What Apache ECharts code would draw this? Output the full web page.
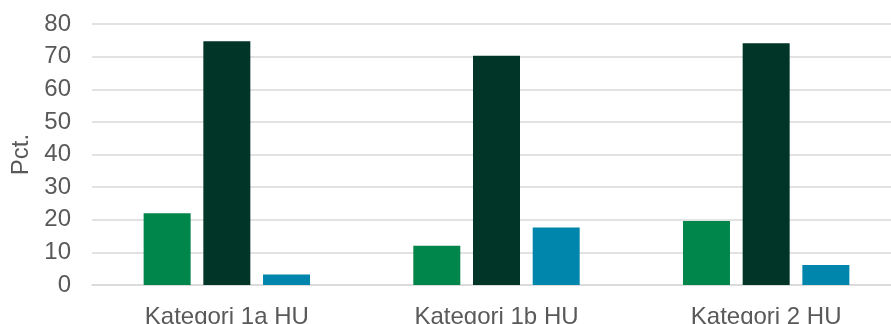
<!DOCTYPE html>
<html>
<head>
<meta charset="utf-8">
<script src="https://cdn.jsdelivr.net/npm/echarts@6/dist/echarts.min.js"></script>
<style>
  html, body { margin: 0; padding: 0; background: #fff; }
  #chart { width: 891px; height: 324px; }
</style>
</head>
<body>
<div id="chart"></div>
<script>
// data
const categories = ['Kategori 1a HU', 'Kategori 1b HU', 'Kategori 2 HU']
const seriesA = [22.0, 12.0, 19.6]
const seriesB = [74.7, 70.3, 74.1]
const seriesC = [3.2, 17.6, 6.1]
const yTicks = { min: 0, max: 80, interval: 10 }

const colors = ['#00854a', '#003527', '#0086ad']
const font = 'Liberation Sans, Arial, sans-serif'

const chart = echarts.init(document.getElementById('chart'))

const bar = (data, i) => ({
  type: 'bar',
  data,
  barWidth: 47,
  barGap: '27%',
  itemStyle: { color: colors[i] },
  silent: true
})

chart.setOption({
  animation: false,
  // plot area runs a little past the right edge, like the original
  grid: { left: 92, width: 809, top: 24, bottom: 39, containLabel: false, outerBoundsMode: 'none' },
  xAxis: {
    type: 'category',
    data: categories,
    axisTick: { show: false },
    axisLine: { lineStyle: { color: '#d9d9d9', width: 1.5 } },
    axisLabel: { color: '#595959', fontSize: 24, fontFamily: font, margin: 20 }
  },
  yAxis: {
    type: 'value',
    min: yTicks.min,
    max: yTicks.max,
    interval: yTicks.interval,
    name: 'Pct.',
    nameLocation: 'middle',
    nameRotate: 90,
    nameGap: 59,
    nameTextStyle: { color: '#595959', fontSize: 24, fontFamily: font },
    axisLine: { show: false },
    axisTick: { show: false },
    axisLabel: { color: '#595959', fontSize: 24, fontFamily: font, margin: 21 },
    splitLine: { lineStyle: { color: '#d9d9d9', width: 1.5 } }
  },
  series: [bar(seriesA, 0), bar(seriesB, 1), bar(seriesC, 2)]
})
</script>
</body>
</html>
